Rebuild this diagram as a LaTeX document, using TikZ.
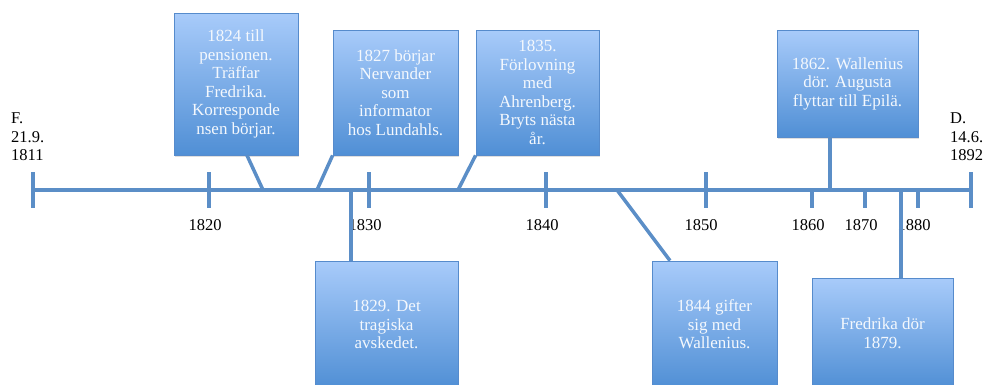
\documentclass[tikz,border=0pt]{standalone}
\usepackage{fontspec}
\setmainfont{Liberation Serif}
\usetikzlibrary{positioning, calc, shadows}
\definecolor{lineblue}{RGB}{91, 142, 199}
\definecolor{boxtop}{RGB}{168, 203, 250}
\definecolor{boxbottom}{RGB}{80, 143, 213}
\definecolor{boxedge}{RGB}{86, 139, 204}
\definecolor{boxtext}{RGB}{244, 248, 253}

\begin{document}
\begin{tikzpicture}[x=1pt, y=-1pt,
  event/.style={draw=boxedge, line width=0.8pt, top color=boxtop, bottom color=boxbottom,
    text=boxtext, align=center, inner sep=0pt, font=\fontsize{17}{18.5}\selectfont,
    drop shadow={opacity=0.25, shadow xshift=1pt, shadow yshift=-2pt}},
  link/.style={draw=lineblue, line width=3.5pt},
  tick/.style={draw=lineblue, line width=4pt},
  yearlabel/.style={inner sep=0pt, align=left, font=\fontsize{16.5}{18.5}\selectfont}]
  \useasboundingbox (0,0) rectangle (987,384);
  \clip (0,0) rectangle (987,384);

  % time axis
  \coordinate (start) at (33,190);
  \coordinate (end) at (971,190);
  \draw[tick] (start) -- (end);
  \foreach \x in {33, 209, 369, 546, 706, 971}
    \draw[tick] (\x,172) -- (\x,208);
  \foreach \x in {812, 865, 918}
    \draw[tick] (\x,190) -- (\x,208);

  % years
  \node[yearlabel] (y1820) at (205,225) {1820};
  \node[yearlabel] (y1830) at (365,225) {1830};
  \node[yearlabel] (y1840) at (542,225) {1840};
  \node[yearlabel] (y1850) at (701,225) {1850};
  \node[yearlabel] (y1860) at (808,225) {1860};
  \node[yearlabel] (y1870) at (861,225) {1870};
  \node[yearlabel] (y1880) at (914,225) {1880};
  \node[yearlabel, anchor=west] (born) at (11,137) {F.\\21.9.\\1811};
  \node[yearlabel, anchor=west] (died) at (950,137) {D.\\14.6.\\1892};

  % events above
  \node[event, minimum width=124pt, minimum height=142pt] (e1824) at (236,84)
    {1824 till\\pensionen.\\Träffar\\Fredrika.\\Korresponde\\nsen börjar.};
  \node[event, minimum width=125pt, minimum height=125pt] (e1827) at (395.5,92.5)
    {1827 börjar\\Nervander\\som\\informator\\hos Lundahls.};
  \node[event, minimum width=123pt, minimum height=125pt] (e1835) at (537.5,92.5)
    {1835.\\Förlovning\\med\\Ahrenberg.\\Bryts nästa\\år.};
  \node[event, minimum width=141pt, minimum height=107pt] (e1862) at (847.5,83.5)
    {1862. Wallenius\\dör. Augusta\\flyttar till Epilä.};

  % events below
  \node[event, minimum width=143pt, minimum height=127pt] (e1829) at (386.5,324.5)
    {1829. Det\\tragiska\\avskedet.};
  \node[event, minimum width=125pt, minimum height=127pt] (e1844) at (714.5,324.5)
    {1844 gifter\\sig med\\Wallenius.};
  \node[event, minimum width=141pt, minimum height=110pt] (e1879) at (882.5,333)
    {Fredrika dör\\1879.};

  % connectors
  \coordinate (a1824) at (263,190);
  \coordinate (a1827) at (317,190);
  \coordinate (a1835) at (458,190);
  \coordinate (a1862) at (830,190);
  \coordinate (a1829) at (351,190);
  \coordinate (a1844) at (617,190);
  \coordinate (a1879) at (901,190);
  \draw[link] ([xshift=11pt]e1824.south) -- (a1824);
  \draw[link] (e1827.south west) -- (a1827);
  \draw[link] (e1835.south west) -- (a1835);
  \draw[link] ([xshift=-17.5pt]e1862.south) -- (a1862);
  \draw[link] ([xshift=-35.5pt]e1829.north) -- (a1829);
  \draw[link] ([xshift=-44.5pt]e1844.north) -- (a1844);
  \draw[link] ([xshift=18.5pt]e1879.north) -- (a1879);
\end{tikzpicture}
\end{document}
